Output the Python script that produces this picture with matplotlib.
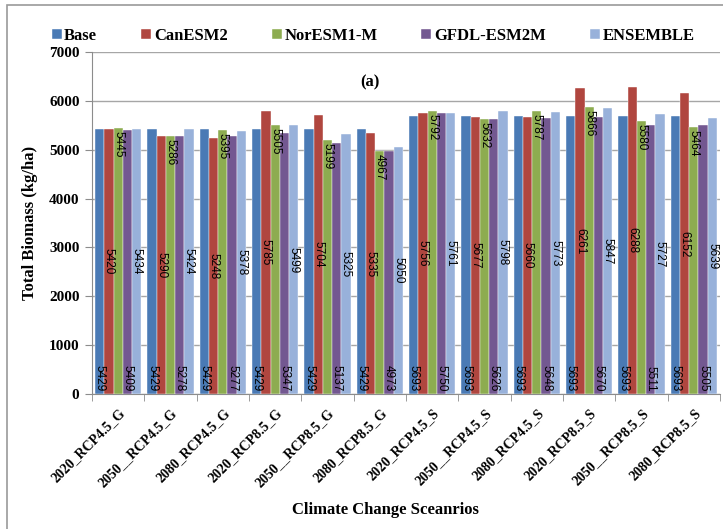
import matplotlib.pyplot as plt
import matplotlib.patches as mpatches
import numpy as np

# Data
scenarios = ['2020_RCP4.5_G', '2050__RCP4.5_G', '2080_RCP4.5_G', '2020_RCP8.5_G',
             '2050__RCP8.5_G', '2080_RCP8.5_G', '2020_RCP4.5_S', '2050__RCP4.5_S',
             '2080_RCP4.5_S', '2020_RCP8.5_S', '2050__RCP8.5_S', '2080_RCP8.5_S']
base = [5429, 5429, 5429, 5429, 5429, 5429, 5693, 5693, 5693, 5693, 5693, 5693]
canesm2 = [5420, 5290, 5248, 5785, 5704, 5335, 5756, 5677, 5660, 6261, 6288, 6152]
noresm = [5445, 5286, 5395, 5505, 5199, 4967, 5792, 5632, 5787, 5866, 5580, 5464]
gfdl = [5409, 5278, 5277, 5347, 5137, 4973, 5750, 5626, 5648, 5670, 5511, 5505]
ensemble = [5434, 5424, 5378, 5499, 5325, 5050, 5761, 5798, 5773, 5847, 5727, 5639]

series = [('Base', base, '#4a7ab5', 'base'),
          ('CanESM2', canesm2, '#b0463f', 'center'),
          ('NorESM1-M', noresm, '#8dac50', 'end'),
          ('GFDL-ESM2M', gfdl, '#735891', 'base'),
          ('ENSEMBLE', ensemble, '#98b1da', 'center')]

serif = 'Liberation Serif'

fig = plt.figure(figsize=(7.23, 5.29), dpi=100)
ax = fig.add_axes([92 / 723, 1 - 394 / 529, (720 - 92) / 723, (394 - 52) / 529])

# chart area border
fig.patches.append(mpatches.Rectangle((7 / 723, -0.1), 1.2, 1 - 5 / 529 + 0.1,
                                      transform=fig.transFigure, fill=False,
                                      edgecolor='#9a9a9a', lw=1.2))

x = np.arange(len(scenarios))
w = 0.176
for i, (name, vals, col, pos) in enumerate(series):
    xs = x + (i - 2) * w
    ax.bar(xs, vals, w, color=col, edgecolor='white', linewidth=0.3, label=name, zorder=3)
    for xx, v in zip(xs, vals):
        if pos == 'base':
            ax.annotate(str(v), (xx, 0), xytext=(0, 2), textcoords='offset points',
                        rotation=-90, ha='center', va='bottom', fontsize=8.5,
                        family='Liberation Sans', zorder=4)
        elif pos == 'center':
            ax.text(xx, v / 2, str(v), rotation=-90, ha='center', va='center',
                    fontsize=8.5, family='Liberation Sans', zorder=4)
        else:
            ax.annotate(str(v), (xx, v), xytext=(0, -2), textcoords='offset points',
                        rotation=-90, ha='center', va='top', fontsize=8.5,
                        family='Liberation Sans', zorder=4)

ax.set_xlim(-0.5, 11.5)
ax.set_ylim(0, 7000)
ax.set_yticks(range(0, 7001, 1000))
ax.set_yticklabels([str(t) for t in range(0, 7001, 1000)], family=serif,
                   fontweight='bold', fontsize=11)
ax.grid(axis='y', color='#a6a6a6', lw=1, zorder=0)

ax.set_xticks(x)
ax.set_xticklabels(scenarios, rotation=45, ha='right', rotation_mode='anchor',
                   family=serif, fontweight='bold', fontsize=10)
ax.set_xticks(np.arange(-0.5, 12, 1), minor=True)
ax.tick_params(axis='x', which='major', length=0, pad=9)
ax.tick_params(axis='x', which='minor', length=5, color='#8c8c8c')
ax.tick_params(axis='y', length=5, color='#8c8c8c', pad=4)

for s in ['top', 'right']:
    ax.spines[s].set_visible(False)
for s in ['left', 'bottom']:
    ax.spines[s].set_color('#8c8c8c')

ax.set_ylabel('Total Biomass (kg/ha)', family=serif, fontweight='bold', fontsize=12,
              labelpad=8)
fig.text(385 / 723, 1 - 510 / 529, 'Climate Change Sceanrios', family=serif,
         fontweight='bold', fontsize=12, ha='center', va='center')
fig.text(370 / 723, 1 - 82 / 529, '(a)', family=serif, fontweight='bold',
         fontsize=12, ha='center', va='center')

fig.legend(loc='center', bbox_to_anchor=(373 / 723, 1 - 36 / 529), ncol=5,
           frameon=False, handlelength=0.6, handleheight=0.6, handletextpad=0.15,
           columnspacing=2.65, prop={'family': serif, 'weight': 'bold', 'size': 12})

fig.savefig('out.png', dpi=100)
